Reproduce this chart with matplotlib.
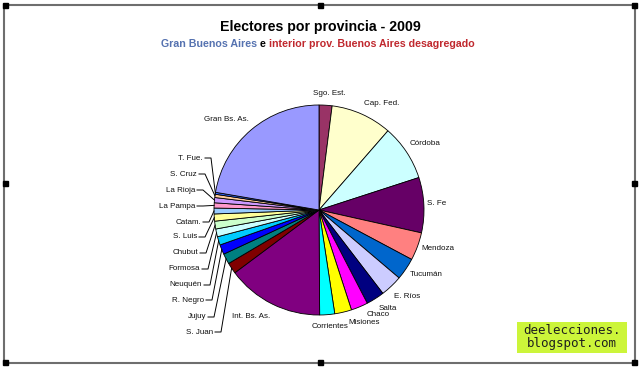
import numpy as np
import matplotlib.pyplot as plt
from matplotlib.patches import Rectangle

plt.rcParams['font.family'] = ['Liberation Sans', 'DejaVu Sans']

# Porcentaje de electores por distrito, en sentido horario desde las 12
provincias = ["Sgo. Est.", "Cap. Fed.", "Córdoba", "S. Fe", "Mendoza", "Tucumán",
              "E. Ríos", "Salta", "Chaco", "Misiones", "Corrientes", "Int. Bs. As.",
              "S. Juan", "Jujuy", "R. Negro", "Neuquén", "Formosa", "Chubut",
              "S. Luis", "Catam.", "La Pampa", "La Rioja", "S. Cruz", "T. Fue.",
              "Gran Bs. As."]
porcentaje = [2.0, 9.4, 8.6, 8.5, 4.3, 3.4,
              3.4, 2.8, 2.6, 2.6, 2.3, 14.9,
              1.7, 1.6, 1.5, 1.3, 1.2, 1.2,
              1.1, 0.9, 0.8, 0.8, 0.5, 0.3,
              22.3]
colores = ["#993366", "#FFFFCC", "#CCFFFF", "#660066", "#FF8080", "#0066CC",
           "#CCCCFF", "#000080", "#FF00FF", "#FFFF00", "#00FFFF", "#800080",
           "#800000", "#008080", "#0000FF", "#00CCFF", "#CCFFFF", "#CCFFCC",
           "#FFFF99", "#99CCFF", "#FF99CC", "#CC99FF", "#FFCC99", "#3366FF",
           "#9999FF"]

# posiciones de las etiquetas en pixeles (x, y, alineacion, con linea guia)
W, H = 640, 367
CX, CY, R = 319, 210, 105
etiquetas = {
    "Sgo. Est.": (329, 93, "center", False),
    "Cap. Fed.": (382, 103, "center", False),
    "Córdoba": (425, 143, "center", False),
    "S. Fe": (437, 203, "center", False),
    "Mendoza": (438, 249, "center", False),
    "Tucumán": (426, 275, "center", False),
    "E. Ríos": (407, 297, "center", False),
    "Salta": (388, 308, "center", False),
    "Chaco": (378, 315, "center", False),
    "Misiones": (364, 322, "center", False),
    "Corrientes": (330, 326, "center", False),
    "Int. Bs. As.": (251, 316, "center", False),
    "Gran Bs. As.": (226, 119, "center", False),
    "T. Fue.": (203, 158, "right", True),
    "S. Cruz": (197, 174, "right", True),
    "La Rioja": (195, 190, "right", True),
    "La Pampa": (195, 206, "right", True),
    "Catam.": (201, 222, "right", True),
    "S. Luis": (197, 237, "right", True),
    "Chubut": (198, 253, "right", True),
    "Formosa": (200, 269, "right", True),
    "Neuquén": (202, 285, "right", True),
    "R. Negro": (204, 300, "right", True),
    "Jujuy": (206, 317, "right", True),
    "S. Juan": (213, 332, "right", True),
}


def px2d(x, y):
    return (x - CX) / R, (CY - y) / R


fig = plt.figure(figsize=(W / 100, H / 100), dpi=100)
fig.patch.set_facecolor("white")
ax = fig.add_axes([(CX - R) / W, (H - CY - R) / H, 2 * R / W, 2 * R / H])

wedges, _ = ax.pie(porcentaje, colors=colores, startangle=90, counterclock=False,
                   wedgeprops=dict(edgecolor="black", linewidth=0.6))
ax.set_xlim(-1, 1)
ax.set_ylim(-1, 1)
ax.axis("off")

for w, nombre in zip(wedges, provincias):
    x, y, ha, guia = etiquetas[nombre]
    tx, ty = px2d(x, y)
    ax.text(tx, ty, nombre, ha=ha, va="center", fontsize=5.8, color="#111111")
    if guia:
        ang = np.deg2rad((w.theta1 + w.theta2) / 2)
        x1, _ = px2d(x + 2, y)
        x2, _ = px2d(x + 8, y)
        ax.plot([x1, x2, np.cos(ang)], [ty, ty, np.sin(ang)], color="black",
                lw=0.7, clip_on=False)

fig.text(0.5, 1 - 27 / H, "Electores por provincia - 2009", ha="center", va="center",
         fontsize=10.2, fontweight="bold")

# subtitulo en tres colores
partes = [("Gran Buenos Aires", "#5572B0"), (" e ", "black"),
          ("interior prov. Buenos Aires desagregado", "#C0282E")]
textos = [fig.text(0, 1 - 44 / H, t, color=c, fontsize=7.7, fontweight="bold", va="center")
          for t, c in partes]
fig.canvas.draw()
r = fig.canvas.get_renderer()
anchos = [t.get_window_extent(r).width for t in textos]
x0 = 318 - sum(anchos) / 2
for t, a in zip(textos, anchos):
    t.set_x(x0 / W)
    x0 += a

# marco y asas de seleccion
fig.add_artist(Rectangle((4 / W, 4 / H), 631 / W, 358 / H, transform=fig.transFigure,
                         fill=False, edgecolor="#6E6E6E", lw=1.5))
for hx, hy in [(5, 5), (320, 5), (634, 5), (5, 183), (634, 183),
               (5, 362), (320, 362), (634, 362)]:
    fig.add_artist(Rectangle(((hx - 2.5) / W, (H - hy - 2.5) / H), 5 / W, 5 / H,
                             transform=fig.transFigure, color="black"))

# marca de agua
fig.add_artist(Rectangle((517 / W, (H - 353) / H), 110 / W, 31 / H,
                         transform=fig.transFigure, color="#CCF53A", lw=0))
fig.text(572 / W, 1 - 337 / H, "deelecciones.\nblogspot.com", ha="center", va="center",
         fontsize=9, color="#1E1E1E", family="DejaVu Sans Mono",
         linespacing=1.0)

fig.savefig("out.png", dpi=100)
